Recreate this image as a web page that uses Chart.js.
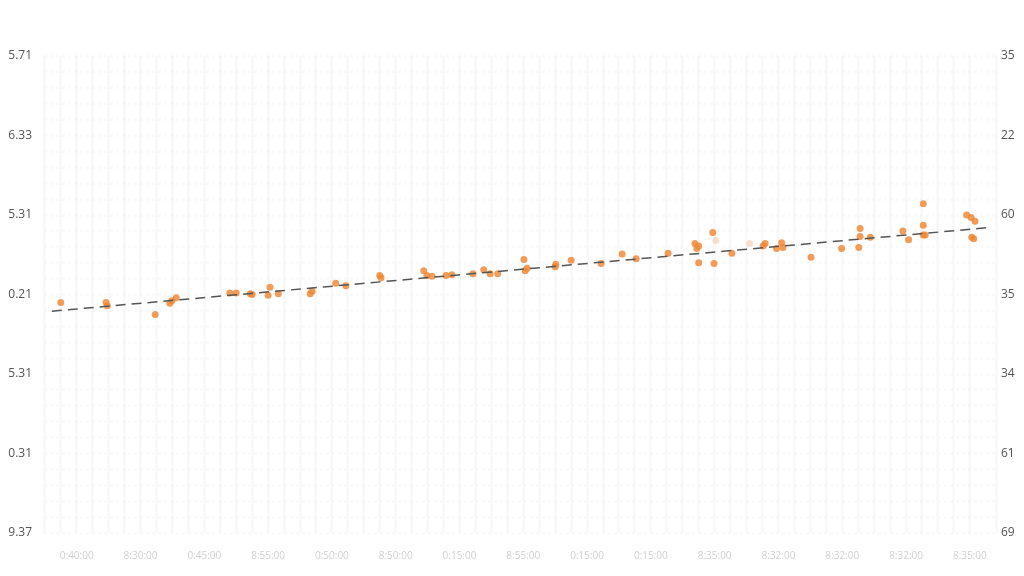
<!DOCTYPE html>
<html>
<head>
<meta charset="utf-8">
<script src="https://cdn.jsdelivr.net/npm/chart.js@4.4.1/dist/chart.umd.min.js"></script>
<style>
  html, body { margin: 0; padding: 0; background: #fff; }
  #wrap { width: 1024px; height: 576px; position: relative; }
</style>
</head>
<body>
<div id="wrap"><canvas id="chart" width="1024" height="576"></canvas></div>
<script>
// tick labels as printed on the reference
const timeLabels = ['0:40:00','8:30:00','0:45:00','8:55:00','0:50:00','8:50:00','0:15:00','8:55:00','0:15:00','0:15:00','8:35:00','8:32:00','8:32:00','8:32:00','8:35:00'];
const leftLabels = ['9.37','0.31','5.31','0.21','5.31','6.33','5.71'];
const rightLabels = ['69','61','34','35','60','22','35'];

// observations (x in label slots, y in axis steps)
const obsX = [-0.25,0.46,0.48,1.23,1.46,1.56,1.49,2.40,2.50,2.72,2.75,3.00,3.03,3.16,3.66,3.69,4.06,4.22,4.75,4.77,
  5.44,5.49,5.57,5.79,5.88,6.21,6.38,6.48,6.60,7.01,7.03,7.06,7.50,7.51,7.75,8.22,8.55,8.77,9.27,9.69,
  9.75,9.72,9.75,9.97,9.99,10.27,10.79,10.76,11.05,10.97,11.07,11.51,11.99,12.26,12.28,12.28,12.44,12.95,13.04,13.27,
  13.27,13.27,13.30,13.95,14.02,14.08,14.03,14.06];
const obsY = [2.90,2.90,2.86,2.75,2.89,2.96,2.92,3.02,3.02,3.01,3.00,2.99,3.09,3.01,3.01,3.04,3.14,3.11,3.24,3.21,
  3.30,3.24,3.23,3.24,3.25,3.26,3.31,3.26,3.26,3.44,3.30,3.33,3.35,3.38,3.43,3.39,3.51,3.45,3.52,3.64,
  3.61,3.58,3.40,3.78,3.39,3.52,3.64,3.61,3.65,3.58,3.59,3.47,3.58,3.59,3.83,3.73,3.72,3.80,3.69,4.14,
  3.87,3.75,3.75,4.00,3.97,3.92,3.72,3.70];
const faintX = [10.02, 10.55];
const faintY = [3.68, 3.64];
const trendX = [-0.39, 14.28];
const trendY = [2.79, 3.84];

const xMin = -0.513, xMax = 14.41;

function pts(xs, ys) { return xs.map((x, i) => ({ x: x, y: ys[i] })); }

const labelFont = { family: 'Open Sans', size: 12 };

new Chart(document.getElementById('chart'), {
  type: 'scatter',
  data: {
    datasets: [
      {
        data: pts(trendX, trendY),
        showLine: true,
        borderColor: '#555',
        borderWidth: 1.5,
        borderDash: [10, 6],
        pointRadius: 0,
        order: 0
      },
      {
        data: pts(obsX, obsY),
        backgroundColor: 'rgba(238,134,52,0.82)',
        borderWidth: 0,
        pointRadius: 3.5,
        order: 1
      },
      {
        data: pts(faintX, faintY),
        backgroundColor: 'rgba(236,160,110,0.35)',
        borderWidth: 0,
        pointRadius: 3.5,
        order: 1
      }
    ]
  },
  options: {
    responsive: false,
    animation: false,
    layout: { padding: { top: 56, right: 0, bottom: 0, left: 0 } },
    plugins: { legend: { display: false }, tooltip: { enabled: false } },
    scales: {
      x: {
        type: 'linear', min: xMin, max: xMax,
        afterBuildTicks: s => { s.ticks = timeLabels.map((_, i) => ({ value: i })); },
        ticks: {
          callback: v => timeLabels[v] || '',
          color: '#d0d0d0', font: { family: 'Open Sans', size: 10 },
          padding: 17, maxRotation: 0, autoSkip: false
        },
        grid: { display: false, drawTicks: false },
        border: { display: false },
        afterFit: s => { s.height = 43; }
      },
      y: {
        min: 0, max: 6, position: 'left',
        ticks: { stepSize: 1, callback: v => leftLabels[v], color: '#555', font: labelFont, padding: 12 },
        grid: { display: false, drawTicks: false },
        border: { display: false },
        afterFit: s => { s.width = 44; }
      },
      y2: {
        min: 0, max: 6, position: 'right',
        ticks: { stepSize: 1, callback: v => rightLabels[v], color: '#555', font: labelFont, padding: 5 },
        grid: { display: false, drawTicks: false },
        border: { display: false },
        afterFit: s => { s.width = 28; }
      },
      xg: {
        type: 'linear', min: xMin, max: xMax, position: 'bottom',
        ticks: { display: false, stepSize: 0.25 },
        grid: { color: 'rgba(0,0,0,0.022)', lineWidth: 3, drawTicks: false },
        border: { display: false },
        afterFit: s => { s.height = 0; }
      },
      yg: {
        min: 0, max: 6, position: 'left',
        ticks: { display: false, stepSize: 0.2 },
        grid: { color: 'rgba(0,0,0,0.018)', lineWidth: 3, drawTicks: false },
        border: { display: false, dash: [3, 3] },
        afterFit: s => { s.width = 0; }
      }
    }
  }
});
</script>
</body>
</html>
